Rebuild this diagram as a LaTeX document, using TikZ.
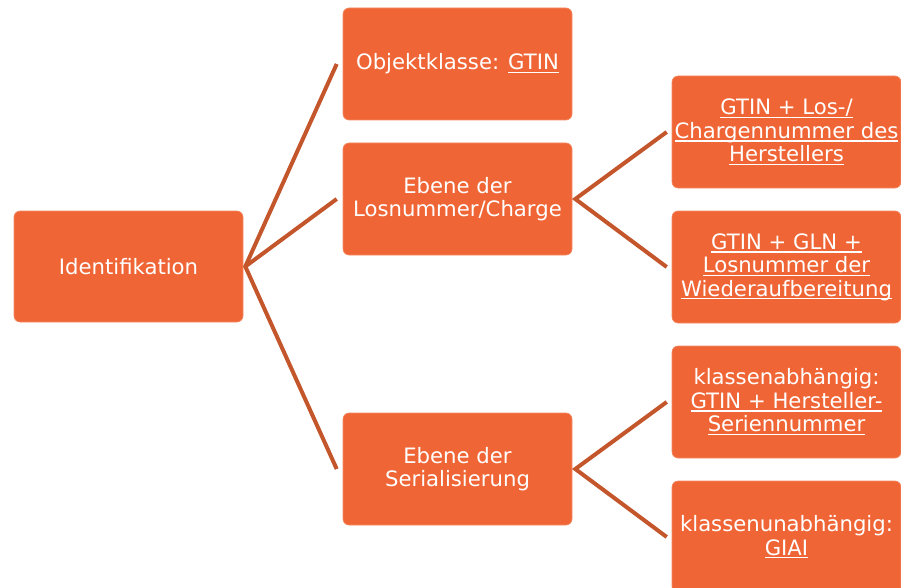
\documentclass[tikz,border=0pt]{standalone}
\usepackage{fontspec}
\setmainfont{DejaVu Sans}
\definecolor{boxfill}{HTML}{F06535}
\definecolor{boxedge}{HTML}{F48A62}
\definecolor{connclr}{HTML}{C4562C}
\newcommand\ulin[1]{\setbox0\hbox{#1}\rlap{\rule[-3.4pt]{\wd0}{1.3pt}}\box0}
\tikzset{
  card/.style={rectangle, rounded corners=6pt, fill=boxfill, draw=boxedge, line width=0.6pt,
    minimum width=229pt, minimum height=112pt, inner sep=1pt, align=center, text=white,
    font=\fontsize{21.2}{23.4}\selectfont},
  conn/.style={draw=connclr, line width=4pt}
}
\begin{document}
\begin{tikzpicture}[x=1pt,y=-1pt]
\useasboundingbox (0,0) rectangle (901,588);
\node[card, minimum height=111pt] (id) at (128.5,266.5) {Identifikation};
\node[card] (ok) at (457.5,64) {Objektklasse: \ulin{GTIN}};
\node[card] (los) at (457.5,199) {Ebene der\\Losnummer/Charge};
\node[card] (ser) at (457.5,469) {Ebene der\\Serialisierung};
\node[card] (g1) at (786.5,132) {\ulin{GTIN + Los-/}\\\ulin{Chargennummer des}\\\ulin{Herstellers}};
\node[card] (g2) at (786.5,267) {\ulin{GTIN + GLN +}\\\ulin{Losnummer der}\\\ulin{Wiederaufbereitung}};
\node[card] (k1) at (786.5,402) {klassenabhängig:\\\ulin{GTIN + Hersteller-}\\\ulin{Seriennummer}};
\node[card] (k2) at (786.5,537) {klassenunabhängig:\\\ulin{GIAI}};
\draw[conn, line join=miter] ([xshift=-6pt]ok.west) -- ([xshift=2pt]id.east) -- ([xshift=-6pt]ser.west);
\draw[conn] ([xshift=2pt]id.east) -- ([xshift=-6pt]los.west);
\draw[conn, line join=miter] ([xshift=-5pt]g1.west) -- ([xshift=3pt]los.east) -- ([xshift=-5pt]g2.west);
\draw[conn, line join=miter] ([xshift=-5pt]k1.west) -- ([xshift=3pt]ser.east) -- ([xshift=-5pt]k2.west);
\end{tikzpicture}
\end{document}
